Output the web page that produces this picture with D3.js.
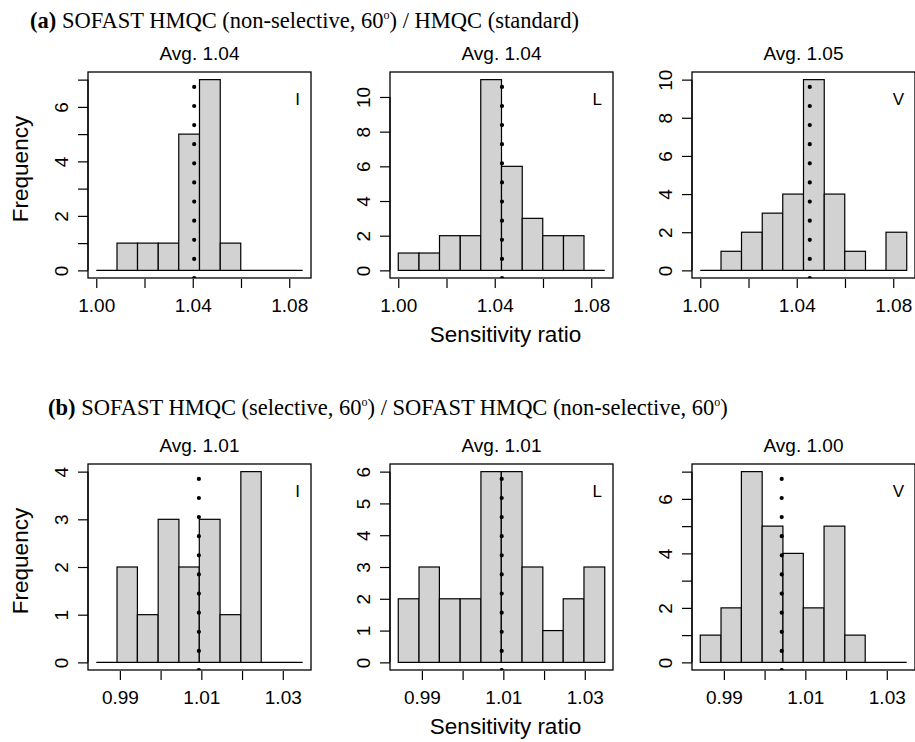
<!DOCTYPE html>
<html>
<head>
<meta charset="utf-8">
<script src="https://cdn.jsdelivr.net/npm/d3@7"></script>
<style>
  body { margin: 0; background: #fff; }
  .sans { font-family: "Liberation Sans", Arial, sans-serif; }
  .serif { font-family: "Liberation Serif", "Times New Roman", serif; }
</style>
</head>
<body>
<svg id="chart" width="915" height="742"></svg>
<script>
// histogram breaks (10 equal bins per row)
const breaksA = [1.0000, 1.0086, 1.0171, 1.0257, 1.0342, 1.0428, 1.0514, 1.0599, 1.0685, 1.0770, 1.0856];
const breaksB = [0.9842, 0.9893, 0.9943, 0.9994, 1.0045, 1.0095, 1.0146, 1.0197, 1.0247, 1.0298, 1.0349];

// counts per bin
const countsAI = [0, 1, 1, 1, 5, 7, 1, 0, 0, 0];
const countsAL = [1, 1, 2, 2, 11, 6, 3, 2, 2, 0];
const countsAV = [0, 1, 2, 3, 4, 10, 4, 1, 0, 2];
const countsBI = [0, 2, 1, 3, 2, 3, 1, 4, 0, 0];
const countsBL = [2, 3, 2, 2, 6, 6, 3, 1, 2, 3];
const countsBV = [1, 2, 7, 5, 4, 2, 5, 1, 0, 0];

// averages (dotted line)
const avgA = [1.0406, 1.0430, 1.0454];
const avgB = [1.0094, 1.0096, 1.0042];

const residues = ["I", "L", "V"];

const xTicksA = [1.00, 1.02, 1.04, 1.06, 1.08];
const xLabelsA = [1.00, 1.04, 1.08];
const xTicksB = [0.99, 1.00, 1.01, 1.02, 1.03];
const xLabelsB = [0.99, 1.01, 1.03];

// y ticks / labelled ticks per panel
const yTicksA = [[0, 1, 2, 3, 4, 5, 6, 7], [0, 2, 4, 6, 8, 10], [0, 2, 4, 6, 8, 10]];
const yLabelsA = [[0, 2, 4, 6], [0, 2, 4, 6, 8, 10], [0, 2, 4, 6, 8, 10]];
const yTicksB = [[0, 1, 2, 3, 4], [0, 1, 2, 3, 4, 5, 6], [0, 1, 2, 3, 4, 5, 6, 7]];
const yLabelsB = [[0, 1, 2, 3, 4], [0, 1, 2, 3, 4, 5, 6], [0, 2, 4, 6]];

const rows = [
    { breaks: breaksA, counts: [countsAI, countsAL, countsAV], avg: avgA,
      xTicks: xTicksA, xLabels: xLabelsA, yTicks: yTicksA, yLabels: yLabelsA, top: 72,
      tag: "(a)", title: ["SOFAST HMQC (non-selective, 60", ") / HMQC (standard)"], titleX: 30, titleY: 28 },
    { breaks: breaksB, counts: [countsBI, countsBL, countsBV], avg: avgB,
      xTicks: xTicksB, xLabels: xLabelsB, yTicks: yTicksB, yLabels: yLabelsB, top: 464,
      tag: "(b)", title: ["SOFAST HMQC (selective, 60", ") / SOFAST HMQC (non-selective, 60", ")"], titleX: 48, titleY: 415 }
];

const plotW = 223, plotH = 206;
const panelLeft = [88, 390, 692];
const fmt2 = d3.format(".2f");

const svg = d3.select("#chart");

rows.forEach((row, r) => {
    const bottom = row.top + plotH;

    // row title
    const t = svg.append("text")
        .attr("class", "serif")
        .attr("x", row.titleX)
        .attr("y", row.titleY)
        .style("font-size", "22.5px");
    t.append("tspan").style("font-weight", "bold").text(row.tag + " ");
    row.title.forEach((s, i) => {
        t.append("tspan").attr("dy", i === 0 ? 0 : 9).text(s);
        if (i < row.title.length - 1) {
            t.append("tspan").attr("dy", -9).style("font-size", "12px").text("o");
        }
    });

    row.counts.forEach((counts, p) => {
        const left = panelLeft[p];
        const b0 = row.breaks[0], b1 = row.breaks[row.breaks.length - 1];
        const ext = (b1 - b0) * 0.04;
        const x = d3.scaleLinear().domain([b0 - ext, b1 + ext]).range([left, left + plotW]);
        const maxC = d3.max(counts);
        const y = d3.scaleLinear().domain([-0.04 * maxC, 1.04 * maxC]).range([bottom, row.top]);

        const g = svg.append("g");

        const bins = counts.map((c, i) => ({ x0: row.breaks[i], x1: row.breaks[i + 1], c: c }));

        // baseline for empty bins
        g.append("line")
            .attr("x1", x(b0)).attr("x2", x(b1))
            .attr("y1", y(0)).attr("y2", y(0))
            .attr("stroke", "#000").attr("stroke-width", 1.2);

        g.selectAll(".bar")
            .data(bins.filter(d => d.c > 0))
            .enter()
            .append("rect")
            .attr("class", "bar")
            .attr("x", d => x(d.x0))
            .attr("width", d => x(d.x1) - x(d.x0))
            .attr("y", d => y(d.c))
            .attr("height", d => y(0) - y(d.c))
            .attr("fill", "#d1d2d1")
            .attr("stroke", "#000")
            .attr("stroke-width", 1.2);

        // dotted average line, clipped to plot region
        const clipId = "clip" + r + p;
        svg.append("clipPath").attr("id", clipId)
            .append("rect")
            .attr("x", left).attr("y", row.top)
            .attr("width", plotW).attr("height", plotH);
        g.append("line")
            .attr("clip-path", "url(#" + clipId + ")")
            .attr("x1", x(row.avg[p])).attr("x2", x(row.avg[p]))
            .attr("y1", bottom).attr("y2", row.top)
            .attr("stroke", "#000")
            .attr("stroke-width", 4.2)
            .attr("stroke-linecap", "round")
            .attr("stroke-dasharray", "0.01 19.1");

        // box
        g.append("rect")
            .attr("x", left).attr("y", row.top)
            .attr("width", plotW).attr("height", plotH)
            .attr("fill", "none")
            .attr("stroke", "#000")
            .attr("stroke-width", 1.3);

        // x axis
        const xAxis = d3.axisBottom(x)
            .tickValues(row.xTicks)
            .tickSize(9)
            .tickFormat(d => row.xLabels.some(v => Math.abs(v - d) < 1e-9) ? fmt2(d) : "");
        const gx = g.append("g")
            .attr("transform", "translate(0," + (bottom + 1) + ")")
            .call(xAxis);
        gx.select(".domain").remove();
        gx.selectAll(".tick line").attr("stroke-width", 1.2);
        gx.selectAll(".tick text")
            .attr("class", "sans")
            .attr("dy", 0)
            .attr("y", 33)
            .style("font-size", "19px")
            .attr("fill", "#000");

        // y axis
        const yAxis = d3.axisLeft(y)
            .tickValues(row.yTicks[p])
            .tickSize(10)
            .tickFormat(d => row.yLabels[p].includes(d) ? d : "");
        const gy = g.append("g")
            .attr("transform", "translate(" + left + ",0)")
            .call(yAxis);
        gy.select(".domain")
            .attr("d", "M0," + y(row.yTicks[p][0]) + "V" + y(row.yTicks[p][row.yTicks[p].length - 1]))
            .attr("stroke-width", 1.2);
        gy.selectAll(".tick line").attr("stroke-width", 1.2);
        gy.selectAll(".tick text")
            .attr("class", "sans")
            .attr("x", 0).attr("dy", 0)
            .attr("transform", "translate(-20,0) rotate(-90)")
            .attr("text-anchor", "middle")
            .style("font-size", "19px")
            .attr("fill", "#000");

        // panel title
        g.append("text")
            .attr("class", "sans")
            .attr("x", left + plotW / 2)
            .attr("y", row.top - 12)
            .attr("text-anchor", "middle")
            .style("font-size", "19px")
            .text("Avg. " + fmt2(row.avg[p]));

        // residue letter
        g.append("text")
            .attr("class", "sans")
            .attr("x", left + plotW - 11)
            .attr("y", row.top + 33)
            .attr("text-anchor", "end")
            .style("font-size", "17px")
            .text(residues[p]);
    });

    // axis labels
    svg.append("text")
        .attr("class", "sans")
        .attr("transform", "translate(28," + (row.top + plotH / 2 - 6) + ") rotate(-90)")
        .attr("text-anchor", "middle")
        .style("font-size", "22.5px")
        .text("Frequency");

    svg.append("text")
        .attr("class", "sans")
        .attr("x", panelLeft[1] + plotW / 2 + 4)
        .attr("y", bottom + 64)
        .attr("text-anchor", "middle")
        .style("font-size", "22.5px")
        .text("Sensitivity ratio");
});
</script>
</body>
</html>
